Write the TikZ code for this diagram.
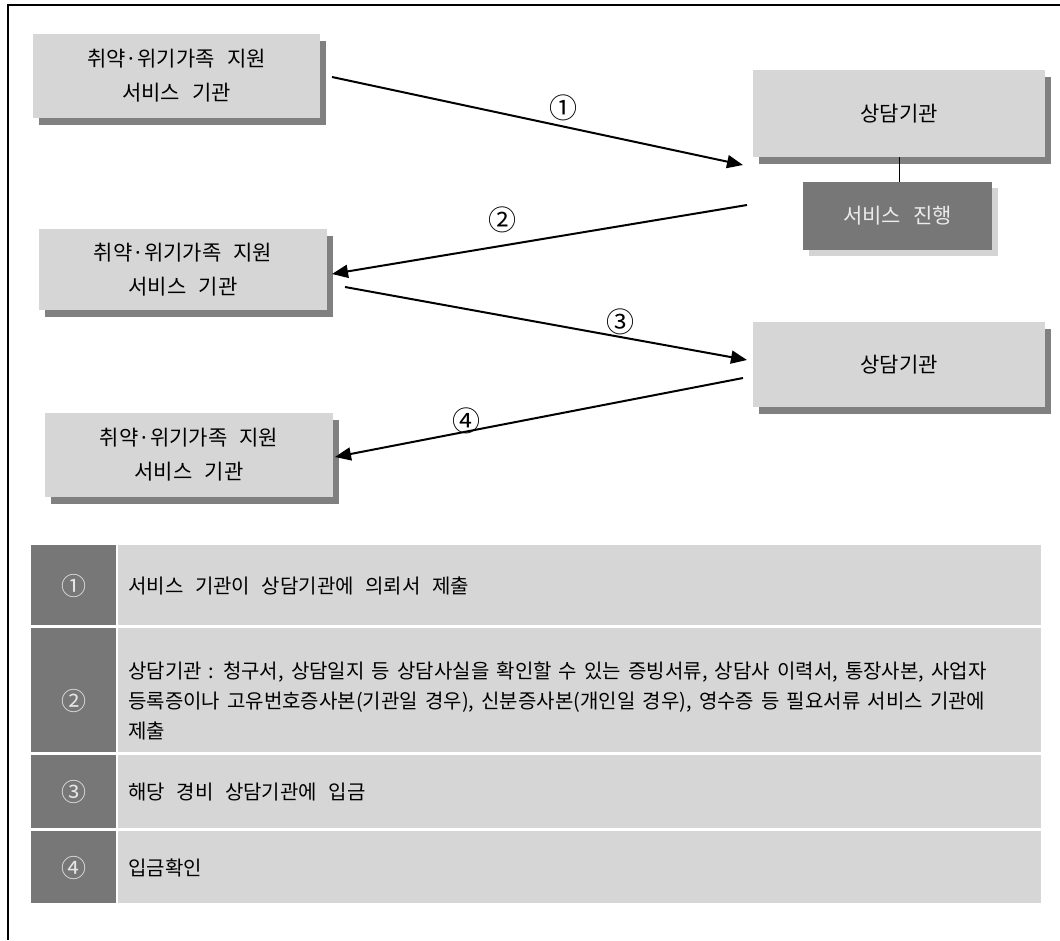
\documentclass[tikz,border=0pt]{standalone}
\usepackage{fontspec}
\setmainfont{Noto Sans CJK KR}[WordSpace=1.6]
\newfontfamily\widekr{Noto Sans CJK KR}[WordSpace=2.6]
\usetikzlibrary{arrows.meta,shadows}

\definecolor{lightbox}{HTML}{D6D6D6}
\definecolor{shadebox}{HTML}{808080}
\definecolor{darkbox}{HTML}{777777}
\definecolor{paleshade}{HTML}{D4D4D4}

\tikzset{
  orgbox/.style={fill=lightbox, inner sep=0pt, align=center,
    font=\widekr\fontsize{21}{34}\selectfont,
    drop shadow={shadow xshift=6pt, shadow yshift=-7pt, opacity=1, fill=shadebox}},
  workbox/.style={fill=darkbox, text=white!92!black, inner sep=0pt,
    font=\widekr\fontsize{21}{24}\selectfont,
    drop shadow={shadow xshift=6pt, shadow yshift=-6pt, opacity=1, fill=paleshade}},
  flow/.style={line width=2pt, -{Triangle[length=16pt,width=13pt]}},
  steplabel/.style={inner sep=0pt, font=\fontsize{28}{28}\selectfont},
  cellnum/.style={inner sep=0pt, text=white!90!black, font=\fontsize{25}{25}\selectfont},
  celltext/.style={inner sep=0pt, anchor=west, align=left, font=\fontsize{20}{30}\selectfont},
}

\begin{document}
\begin{tikzpicture}[x=1pt,y=-1pt]
\useasboundingbox (0,0) rectangle (1060,940);
\draw[line width=1.5pt] (8,940) -- (8,5) -- (1060,5);

% organisations
\node[orgbox, minimum width=287pt, minimum height=84pt] (fam1) at (176.5,76) {취약·위기가족 지원\\서비스 기관};
\node[orgbox, minimum width=288pt, minimum height=81pt] (fam2) at (183,269.5) {취약·위기가족 지원\\서비스 기관};
\node[orgbox, minimum width=288pt, minimum height=84pt] (fam3) at (189,455) {취약·위기가족 지원\\서비스 기관};

\node[orgbox, minimum width=292pt, minimum height=87pt] (cons1) at (899,113.5) {상담기관};
\node[orgbox, minimum width=292pt, minimum height=85pt] (cons2) at (899,364.5) {상담기관};
\node[workbox, minimum width=189pt, minimum height=68pt] (work) at (897.5,216) {서비스 진행};
\draw[line width=1pt] (cons1.south) -- (cons1.south |- work.north);

% arrows
\coordinate (s1) at (332,77);  \coordinate (e1) at (743,165);
\coordinate (s2) at (747,205); \coordinate (e2) at (332,274);
\coordinate (s3) at (345,287); \coordinate (e3) at (747,360);
\coordinate (s4) at (743,378); \coordinate (e4) at (335,457);
\draw[flow] (s1) -- (e1);
\draw[flow] (s2) -- (e2);
\draw[flow] (s3) -- (e3);
\draw[flow] (s4) -- (e4);

\node[steplabel] (l1) at (563,108) {①};
\node[steplabel] (l2) at (502,220) {②};
\node[steplabel] (l3) at (620,322) {③};
\node[steplabel] (l4) at (466,421) {④};

% table
\fill[darkbox] (31,545) rectangle (116,625);
\fill[lightbox] (118,545) rectangle (1041,625);
\fill[darkbox] (31,628) rectangle (116,752);
\fill[lightbox] (118,628) rectangle (1041,752);
\fill[darkbox] (31,755) rectangle (116,828);
\fill[lightbox] (118,755) rectangle (1041,828);
\fill[darkbox] (31,831) rectangle (116,903);
\fill[lightbox] (118,831) rectangle (1041,903);

\node[cellnum] (n1) at (73.5,586) {①};
\node[cellnum] (n2) at (73.5,701) {②};
\node[cellnum] (n3) at (73.5,792) {③};
\node[cellnum] (n4) at (73.5,868) {④};

\node[celltext, font=\widekr\fontsize{20}{30}\selectfont] (t1) at (128,586) {서비스 기관이 상담기관에 의뢰서 제출};
\node[celltext] (t2) at (128,701) {상담기관 : 청구서, 상담일지 등 상담사실을 확인할 수 있는 증빙서류, 상담사 이력서, 통장사본, 사업자\\등록증이나 고유번호증사본(기관일 경우), 신분증사본(개인일 경우), 영수증 등 필요서류 서비스 기관에\\제출};
\node[celltext, font=\widekr\fontsize{20}{30}\selectfont] (t3) at (128,792) {해당 경비 상담기관에 입금};
\node[celltext] (t4) at (128,868) {입금확인};
\end{tikzpicture}
\end{document}
